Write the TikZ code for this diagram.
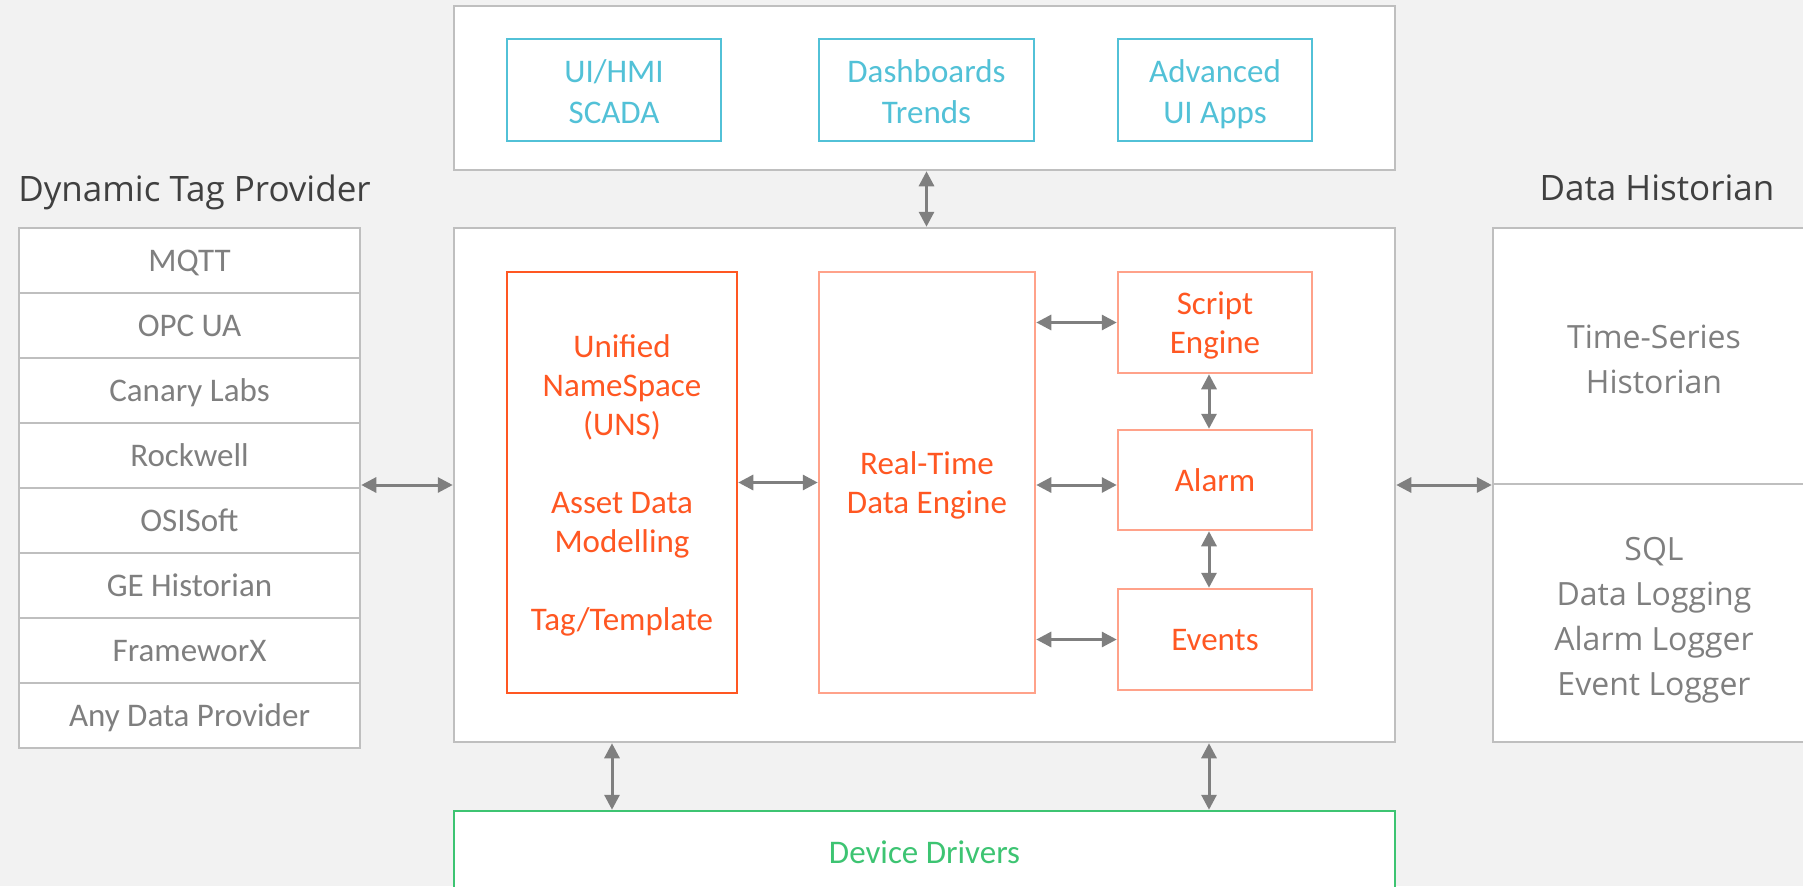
\documentclass[tikz,border=0pt]{standalone}
\usepackage{fontspec}
\setmainfont{Carlito}
\newfontfamily\headfont{Open Sans}
\usepackage{tikz}
\usetikzlibrary{arrows.meta}
\definecolor{canvas}{HTML}{F2F2F2}
\definecolor{frame}{HTML}{BFBFBF}
\definecolor{greytext}{HTML}{7F7F7F}
\definecolor{headtext}{HTML}{404040}
\definecolor{uicyan}{HTML}{52C1D7}
\definecolor{unsred}{HTML}{FF5722}
\definecolor{coresalmon}{HTML}{FFA28A}
\definecolor{drvgreen}{HTML}{3DC472}
\definecolor{linkgrey}{HTML}{7F7F7F}
\newcommand{\boxfont}{\fontsize{33}{39}\selectfont}
\newcommand{\histfont}{\headfont\fontsize{32}{45}\selectfont}
% struts for first and last text lines
\newcommand{\uprule}[1]{\rule{0pt}{#1}}
\newcommand{\dnrule}[1]{\rule[-#1]{0pt}{#1}}
\newcommand{\oneline}{\rule[-8pt]{0pt}{38pt}}
\tikzset{
  panel/.style    = {draw=frame, line width=2.5pt, fill=white, inner sep=0pt},
  rowbox/.style   = {panel, minimum width=341pt, minimum height=65pt,
                     text=greytext, font=\boxfont},
  uibox/.style    = {draw=uicyan, line width=2.5pt, fill=white, text=uicyan,
                     align=center, font=\fontsize{33}{41}\selectfont,
                     minimum height=102pt, inner sep=0pt},
  unsbox/.style   = {draw=unsred, line width=2.5pt, fill=white, text=unsred,
                     align=center, font=\boxfont, inner sep=0pt},
  corebox/.style  = {unsbox, draw=coresalmon},
  drvbox/.style   = {draw=drvgreen, line width=2.5pt, fill=white, text=drvgreen,
                     font=\boxfont, inner sep=0pt},
  histbox/.style  = {panel, text=greytext, align=center, font=\histfont},
  heading/.style  = {text=headtext, font=\headfont\fontsize{35}{42}\selectfont,
                     anchor=base, inner sep=0pt},
  dataflow/.style = {draw=linkgrey, line width=3pt,
                     {Triangle[length=15pt,width=15pt]}-{Triangle[length=15pt,width=15pt]}}
}

\begin{document}
\begin{tikzpicture}[x=1pt,y=-1pt]
	\fill[canvas] (0,0) rectangle (1803,886);
	\useasboundingbox (0,0) rectangle (1803,886);

	% clients
	\node[panel, minimum width=941pt, minimum height=164pt] (top) at (924.5,88) {};
	\node[uibox, minimum width=214pt] (ui1) at (614,90) {\uprule{31pt}UI/HMI\\SCADA\dnrule{6pt}};
	\node[uibox, minimum width=215pt] (ui2) at (926.5,90) {\uprule{31pt}Dashboards\\Trends\dnrule{6pt}};
	\node[uibox, minimum width=194pt] (ui3) at (1215,90) {\uprule{31pt}Advanced\\UI Apps\dnrule{6pt}};

	% server
	\node[panel, minimum width=941pt, minimum height=514pt] (main) at (924.5,485) {};
	\node[unsbox, minimum width=230pt, minimum height=421pt] (uns) at (622,482.5)
		{\uprule{30pt}Unified\\NameSpace\\(UNS)\\[39pt]Asset Data\\Modelling\\[39pt]Tag/Template\dnrule{8pt}};
	\node[corebox, minimum width=216pt, minimum height=421pt] (rt) at (927,482.5)
		{\uprule{30pt}Real-Time\\Data Engine\dnrule{8pt}};
	\node[corebox, minimum width=194pt, minimum height=101pt] (script) at (1215,322.5)
		{\uprule{30pt}Script\\Engine\dnrule{8pt}};
	\node[corebox, minimum width=194pt, minimum height=100pt] (alarm) at (1215,480) {\oneline Alarm};
	\node[corebox, minimum width=194pt, minimum height=101pt] (events) at (1215,639.5) {\oneline Events};

	\node[drvbox, minimum width=941pt, minimum height=82pt] (drv) at (924.5,852) {\oneline Device Drivers};

	% providers
	\node[heading] (provtitle) at (194.5,201) {Dynamic Tag Provider};
	\foreach \name [count=\i] in {MQTT, OPC UA, Canary Labs, Rockwell, OSISoft, GE Historian, FrameworX, Any Data Provider}
		\node[rowbox] (p\i) at (189.5,{260.5+65*(\i-1)}) {\oneline\name};

	% historian
	\node[heading] (histtitle) at (1657,200) {Data Historian};
	\node[histbox, minimum width=322pt, minimum height=256pt] (hist1) at (1654,356)
		{\uprule{40pt}Time-Series\\Historian\dnrule{10pt}};
	\node[histbox, minimum width=322pt, minimum height=258pt] (hist2) at (1654,613)
		{\uprule{40pt}SQL\\Data Logging\\Alarm Logger\\Event Logger\dnrule{10pt}};

	\coordinate (busL) at (612,0);
	\coordinate (busR) at (1209,0);

	\draw[dataflow] (ui2 |- top.south) -- (ui2 |- main.north);
	\draw[dataflow] (main.west -| p4.east) -- (main.west);
	\draw[dataflow] (main.east) -- (main.east -| hist1.west);
	\draw[dataflow] (uns.east) -- (rt.west);
	\draw[dataflow] (rt.east |- script.west) -- (script.west);
	\draw[dataflow] (rt.east |- main.east) -- (alarm.west |- main.east);
	\draw[dataflow] (rt.east |- events.west) -- (events.west);
	\draw[dataflow] (busR |- script.south) -- (busR |- alarm.north);
	\draw[dataflow] (busR |- alarm.south) -- (busR |- events.north);
	\draw[dataflow] (busL |- main.south) -- (busL |- drv.north);
	\draw[dataflow] (busR |- main.south) -- (busR |- drv.north);
\end{tikzpicture}
\end{document}
